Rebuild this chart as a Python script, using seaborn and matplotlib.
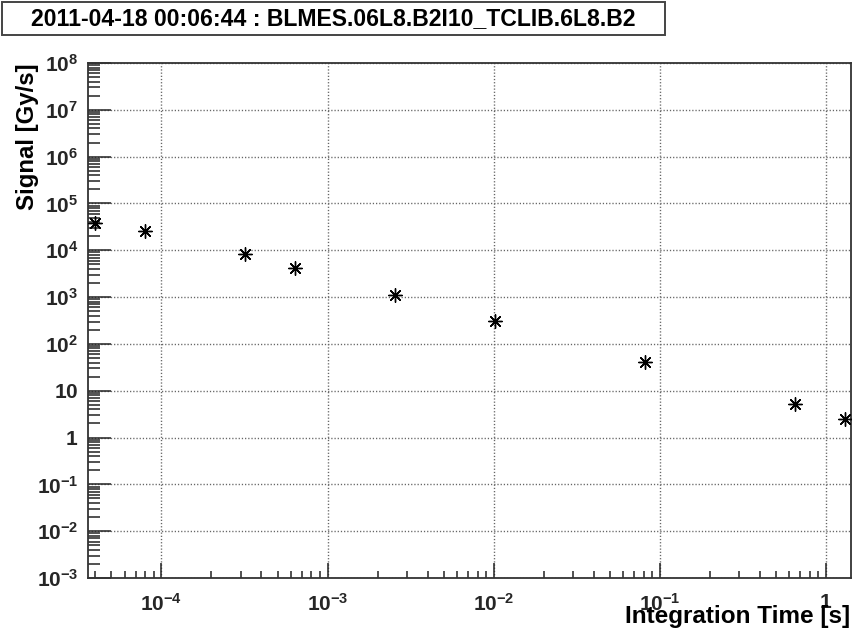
import numpy as np
import pandas as pd
import matplotlib
matplotlib.use("Agg")
import matplotlib.pyplot as plt
import seaborn as sns
from matplotlib.ticker import LogLocator, FixedLocator, FixedFormatter, NullFormatter
from matplotlib.patches import Rectangle

# ---- data ----
integration_time = [4.0e-5, 8.0e-5, 3.2e-4, 6.4e-4, 2.56e-3, 1.024e-2, 8.192e-2, 0.655, 1.31]
signal = [3.9e4, 2.6e4, 8.3e3, 4.1e3, 1.09e3, 3.04e2, 40.5, 5.3, 2.5]

title_text = "2011-04-18 00:06:44 : BLMES.06L8.B2I10_TCLIB.6L8.B2"
xlabel_text = "Integration Time [s]"
ylabel_text = "Signal [Gy/s]"

x_ticks = [1e-4, 1e-3, 1e-2, 1e-1, 1]
x_ticklabels = [r"$\mathbf{10^{-4}}$", r"$\mathbf{10^{-3}}$", r"$\mathbf{10^{-2}}$",
                r"$\mathbf{10^{-1}}$", r"$\mathbf{1}$"]
y_ticks = [1e-3, 1e-2, 1e-1, 1, 10, 1e2, 1e3, 1e4, 1e5, 1e6, 1e7, 1e8]
y_ticklabels = [r"$\mathbf{10^{-3}}$", r"$\mathbf{10^{-2}}$", r"$\mathbf{10^{-1}}$",
                r"$\mathbf{1}$", r"$\mathbf{10}$", r"$\mathbf{10^{2}}$", r"$\mathbf{10^{3}}$",
                r"$\mathbf{10^{4}}$", r"$\mathbf{10^{5}}$", r"$\mathbf{10^{6}}$",
                r"$\mathbf{10^{7}}$", r"$\mathbf{10^{8}}$"]

df = pd.DataFrame({"time": integration_time, "signal": signal})

sns.set_theme(style="white")
plt.rcParams["font.family"] = ["Liberation Sans", "DejaVu Sans"]
plt.rcParams["mathtext.fontset"] = "custom"
plt.rcParams["mathtext.rm"] = "Liberation Sans"
plt.rcParams["mathtext.bf"] = "Liberation Sans:bold"
plt.rcParams["mathtext.it"] = "Liberation Sans:italic"

W, H = 852, 636
fig = plt.figure(figsize=(W / 100, H / 100), dpi=100)
ax = fig.add_axes([88 / W, 1 - 578 / H, 763 / W, 515 / H])

ax.set_xscale("log")
ax.set_yscale("log")
ax.set_xlim(3.61e-5, 1.42)
ax.set_ylim(1e-3, 1e8)

# grid
ax.grid(True, which="major", axis="both", color="#666666", linestyle=(0, (0.9, 1.4)), linewidth=1.0)
ax.set_axisbelow(True)

sns.scatterplot(data=df, x="time", y="signal", ax=ax, marker=(8, 2, 0), s=95,
                color="black", edgecolor="black", linewidth=1.0, legend=False, zorder=5,
                clip_on=False)
sns.scatterplot(data=df, x="time", y="signal", ax=ax, marker="o", s=9,
                color="black", edgecolor="black", linewidth=0, legend=False, zorder=6,
                clip_on=False)

# ticks
ax.xaxis.set_major_locator(FixedLocator(x_ticks))
ax.xaxis.set_major_formatter(FixedFormatter(x_ticklabels))
ax.xaxis.set_minor_locator(LogLocator(base=10, subs=np.arange(2, 10), numticks=50))
ax.xaxis.set_minor_formatter(NullFormatter())
ax.yaxis.set_major_locator(FixedLocator(y_ticks))
ax.yaxis.set_major_formatter(FixedFormatter(y_ticklabels))
ax.yaxis.set_minor_locator(LogLocator(base=10, subs=np.arange(2, 10), numticks=50))
ax.yaxis.set_minor_formatter(NullFormatter())

ax.tick_params(axis="x", which="major", direction="in", length=10.8, width=1.1,
               color="#222222", labelsize=15, pad=10.5, bottom=True, top=False)
ax.tick_params(axis="x", which="minor", direction="in", length=5, width=1.1,
               color="#222222", bottom=True, top=False)
ax.tick_params(axis="y", which="major", direction="in", length=16.6, width=1.1,
               color="#222222", labelsize=15, pad=7, left=True, right=False)
ax.tick_params(axis="y", which="minor", direction="in", length=8.4, width=1.1,
               color="#222222", left=True, right=False)

for s in ax.spines.values():
    s.set_color("#333333")
    s.set_linewidth(1.3)
    s.set_visible(True)

ax.set_xlabel("")
ax.set_ylabel("")

fig.text(850 / W, 1 - 623 / H, xlabel_text, ha="right", va="baseline",
         fontsize=17.5, fontweight="bold", color="black")
fig.text(27.5 / W, 1 - 63 / H, ylabel_text, ha="center", va="top", rotation=90,
         fontsize=17.3, fontweight="bold", color="black")

# title box
box_l, box_t, box_r, box_b = 2, 2, 665, 35
fig.patches.append(Rectangle((box_l / W, 1 - box_b / H), (box_r - box_l) / W, (box_b - box_t) / H,
                             transform=fig.transFigure, facecolor="white", edgecolor="#444444",
                             linewidth=1.4))
fig.text((box_l + box_r) / 2 / W, 1 - 18.5 / H, title_text, ha="center", va="center",
         fontsize=16.6, fontweight="bold", color="black")

fig.savefig("out.png", dpi=100)
